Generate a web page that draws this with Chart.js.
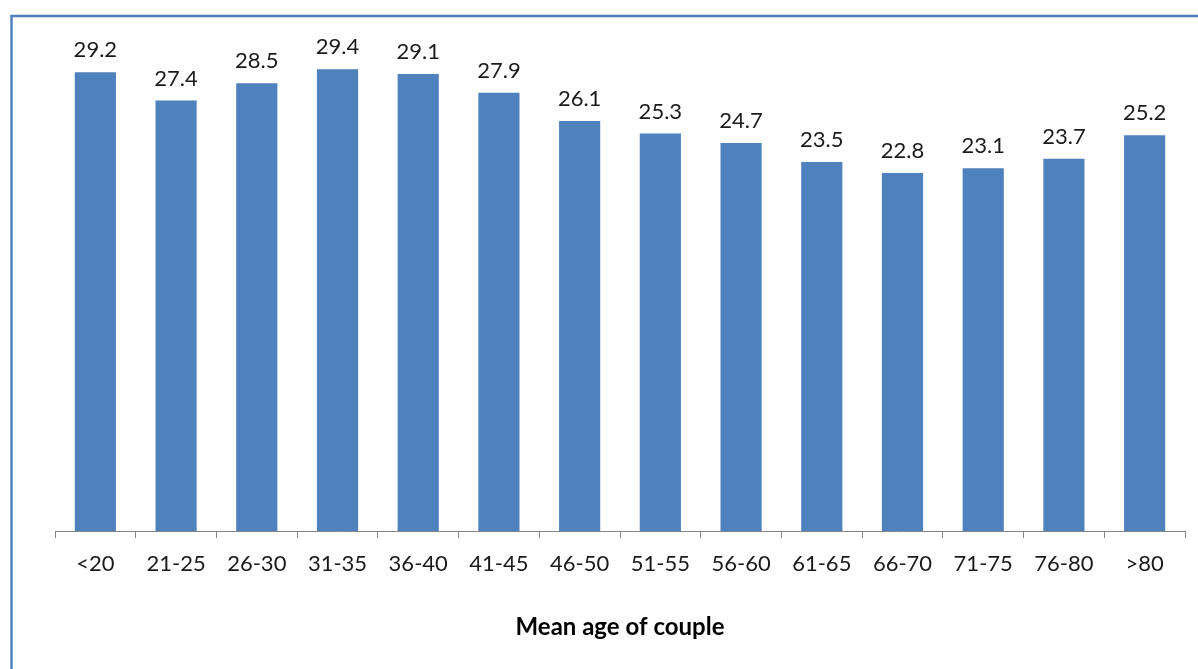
<!DOCTYPE html>
<html>
<head>
<meta charset="utf-8">
<script src="https://cdn.jsdelivr.net/npm/chart.js@4.4.0/dist/chart.umd.min.js"></script>
<style>
html,body{margin:0;padding:0;background:#fff;}
#wrap{position:relative;width:1198px;height:669px;}
</style>
</head>
<body>
<div id="wrap"><canvas id="c" width="1198" height="669"></canvas></div>
<script>
const categories = ['<20','21-25','26-30','31-35','36-40','41-45','46-50','51-55','56-60','61-65','66-70','71-75','76-80','>80'];
const values = [29.2, 27.4, 28.5, 29.4, 29.1, 27.9, 26.1, 25.3, 24.7, 23.5, 22.8, 23.1, 23.7, 25.2];
const axisTitle = 'Mean age of couple';

const framePlugin = {
  id: 'frame',
  beforeDraw(chart) {
    const ctx = chart.ctx;
    ctx.save();
    ctx.fillStyle = '#ffffff';
    ctx.fillRect(0, 0, chart.width, chart.height);
    ctx.strokeStyle = '#4F81BD';
    ctx.lineWidth = 2.5;
    ctx.beginPath();
    ctx.moveTo(11.5, chart.height + 2);
    ctx.lineTo(11.5, 16);
    ctx.lineTo(chart.width + 2, 16);
    ctx.stroke();
    ctx.restore();
  }
};

const labelPlugin = {
  id: 'valueLabels',
  afterDatasetsDraw(chart) {
    const ctx = chart.ctx;
    const meta = chart.getDatasetMeta(0);
    ctx.save();
    ctx.font = '22px Lato';
    ctx.fillStyle = '#1a1a1a';
    ctx.textAlign = 'center';
    ctx.textBaseline = 'alphabetic';
    meta.data.forEach((bar, i) => {
      ctx.fillText(values[i].toFixed(1), bar.x, bar.y - 15);
    });
    ctx.restore();
  }
};

new Chart(document.getElementById('c'), {
  type: 'bar',
  data: {
    labels: categories,
    datasets: [{
      data: values,
      backgroundColor: '#4F81BD',
      borderWidth: 0,
      barPercentage: 0.51,
      categoryPercentage: 1.0
    }]
  },
  options: {
    responsive: false,
    animation: false,
    devicePixelRatio: 1,
    layout: { padding: { top: 59, left: 55, right: 13, bottom: 0 } },
    plugins: { legend: { display: false }, tooltip: { enabled: false } },
    scales: {
      y: { display: false, min: 0, max: 30.05 },
      x: {
        offset: true,
        grid: { display: true, drawOnChartArea: false, drawTicks: true, tickLength: 7, color: '#868686', offset: true },
        border: { display: true, color: '#868686', width: 1 },
        ticks: { color: '#1a1a1a', font: { family: 'Lato', size: 22 }, padding: 13, maxRotation: 0, autoSkip: false },
        title: { display: true, text: axisTitle, color: '#000', font: { family: 'Lato', size: 24, weight: 'bold' }, padding: { top: 0, bottom: 27 } },
        afterFit(scale) { scale.height = 669 - 531; }
      }
    }
  },
  plugins: [framePlugin, labelPlugin]
});
</script>
</body>
</html>
